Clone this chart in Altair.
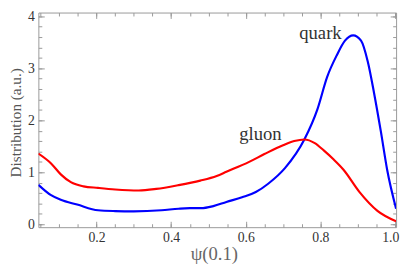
import altair as alt
import pandas as pd

# ---- data ----
quark_x = [0.044, 0.078, 0.104, 0.148, 0.204, 0.25, 0.3, 0.374, 0.42, 0.45, 0.48, 0.513,
           0.548, 0.59, 0.627, 0.66, 0.705, 0.757, 0.792, 0.818, 0.844, 0.866, 0.888,
           0.909, 0.927, 0.944, 0.962, 0.979, 1.003]
quark_y = [0.76, 0.56, 0.47, 0.38, 0.27, 0.255, 0.25, 0.27, 0.30, 0.31, 0.31, 0.35,
           0.43, 0.52, 0.62, 0.78, 1.08, 1.63, 2.21, 2.83, 3.25, 3.53, 3.63,
           3.53, 3.13, 2.52, 1.79, 1.05, 0.3]
gluon_x = [0.044, 0.078, 0.104, 0.131, 0.165, 0.204, 0.25, 0.313, 0.36, 0.418, 0.478,
           0.522, 0.548, 0.609, 0.65, 0.70, 0.73, 0.757, 0.785, 0.809, 0.835, 0.862,
           0.905, 0.953, 1.003]
gluon_y = [1.36, 1.17, 0.96, 0.81, 0.73, 0.70, 0.67, 0.65, 0.68, 0.75, 0.84,
           0.93, 1.01, 1.2, 1.35, 1.52, 1.6, 1.63, 1.56, 1.42, 1.25, 1.05,
           0.62, 0.26, 0.06]

series_names = ["quark", "gluon"]
series_colors = ["#0000ff", "#ff0000"]

label_text = ["quark", "gluon"]
label_x = [0.857, 0.696]
label_y = [3.57, 1.615]

x_major = [0.2, 0.4, 0.6, 0.8, 1.0]
y_major = [0, 1, 2, 3, 4]
x_minor = [round(0.05 * i, 2) for i in range(1, 21)]
y_minor = [round(0.2 * i, 1) for i in range(0, 21)]

x_domain = [0.044, 1.003]
y_domain = [-0.055, 4.07]

W, H = 365, 219
FONT = "Liberation Serif"
FRAME = "#999999"

rows = []
for xv, yv in zip(quark_x, quark_y):
    rows.append({"x": xv, "y": yv, "series": "quark"})
for xv, yv in zip(gluon_x, gluon_y):
    rows.append({"x": xv, "y": yv, "series": "gluon"})
df = pd.DataFrame(rows)
labels = pd.DataFrame({"x": label_x, "y": label_y, "text": label_text})

xs = alt.Scale(domain=x_domain, nice=False, zero=False)
ys = alt.Scale(domain=y_domain, nice=False, zero=False)

base = alt.Chart(df)

lines = base.mark_line(strokeWidth=2.2, interpolate="monotone", clip=True).encode(
    x=alt.X("x:Q", scale=xs, axis=alt.Axis(
        orient="bottom", values=x_major, format=".1f", ticks=False, tickSize=0,
        domain=False, grid=False, labelFont=FONT, labelFontSize=14,
        labelColor="#333333", labelPadding=4, labelFlush=6, labelFlushOffset=4,
        title="ψ(0.1)", titleFont=FONT,
        titleFontSize=19, titleFontWeight="normal", titleColor="#666666",
        titleBaseline="alphabetic", titleY=33, titleX=179)),
    y=alt.Y("y:Q", scale=ys, axis=alt.Axis(
        orient="left", values=y_major, format="d", ticks=False, tickSize=0,
        domain=False, grid=False, labelFont=FONT, labelFontSize=14,
        labelColor="#333333", labelPadding=4, title="Distribution (a.u.)",
        titleFont=FONT, titleFontSize=15.5, titleFontWeight="normal",
        titleColor="#555555", titleBaseline="alphabetic", titleX=-18, titleY=112)),
    color=alt.Color("series:N", scale=alt.Scale(domain=series_names, range=series_colors),
                    legend=None),
)


def tick_layer(xorient, yorient, xvals, yvals, size):
    return base.mark_line(opacity=0).encode(
        x=alt.X("x:Q", scale=xs, axis=alt.Axis(
            orient=xorient, offset=-H, values=xvals, labels=False, domain=False,
            grid=False, tickSize=size, tickColor=FRAME, title=None)),
        y=alt.Y("y:Q", scale=ys, axis=alt.Axis(
            orient=yorient, offset=-W, values=yvals, labels=False, domain=False,
            grid=False, tickSize=size, tickColor=FRAME, title=None)),
    )


t1 = tick_layer("top", "right", x_major, y_major, 6)
t2 = tick_layer("top", "right", x_minor, y_minor, 3.5)
t3 = tick_layer("bottom", "left", x_major, y_major, 6)
t4 = tick_layer("bottom", "left", x_minor, y_minor, 3.5)

text = alt.Chart(labels).mark_text(
    align="right", baseline="alphabetic", font=FONT, fontSize=19, color="#333333"
).encode(
    x=alt.X("x:Q", scale=xs, axis=None),
    y=alt.Y("y:Q", scale=ys, axis=None),
    text="text:N",
)

chart = alt.layer(lines, t1, t2, t3, t4, text).resolve_axis(
    x="independent", y="independent"
).properties(
    width=W, height=H,
    autosize=alt.AutoSizeParams(type="none"),
    padding={"left": 31, "top": 2, "right": 5, "bottom": 39},
).configure(font=FONT).configure_axis(
    labelFont=FONT, titleFont=FONT
).configure_view(stroke=FRAME, strokeWidth=1)

chart.save("out.html", embed_options={"renderer": "svg", "actions": False})
